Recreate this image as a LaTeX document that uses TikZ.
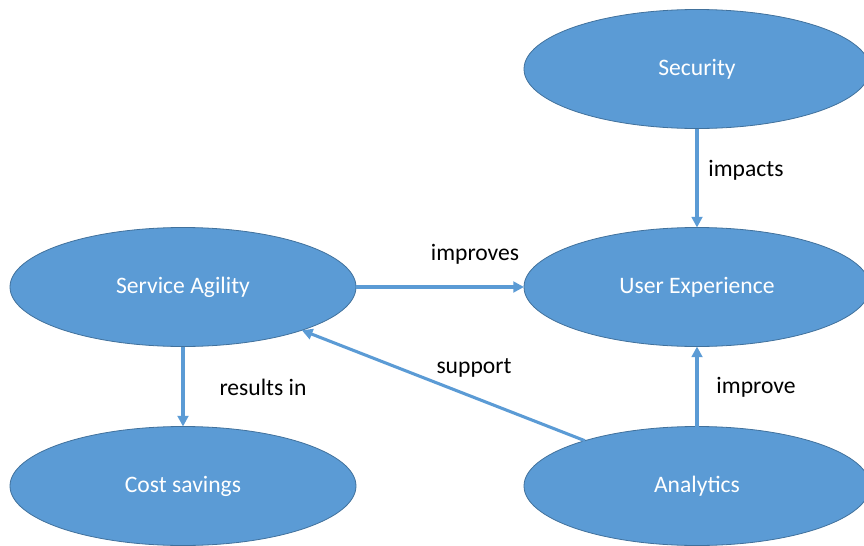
\documentclass[tikz,border=0pt]{standalone}
\usepackage{fontspec}
\setmainfont{Carlito}
\usepackage{xcolor}
\usetikzlibrary{shapes.geometric,arrows.meta}
\definecolor{ovalFill}{HTML}{5B9BD5}
\definecolor{ovalLine}{HTML}{41719C}
\newcommand{\ovalWidth}{346}
\newcommand{\ovalHeight}{119}

\begin{document}
\begin{tikzpicture}[x=0.75pt,y=-0.75pt,
	oval/.style={ellipse,draw=ovalLine,line width=0.6pt,fill=ovalFill,text=white,inner sep=0pt,outer sep=0pt,minimum width=\ovalWidth*0.75pt,minimum height=\ovalHeight*0.75pt,font=\fontsize{17.7}{21}\selectfont},
	link/.style={draw=ovalFill,line width=2.3pt,-{Triangle[length=8pt,width=8pt]}},
	linklabel/.style={font=\fontsize{17.7}{21}\selectfont,text=black}]
	\useasboundingbox (0,0) rectangle (864,546);

	\node[oval] (SEC) at (697,69) {Security};
	\node[oval] (SA) at (183,287) {Service Agility};
	\node[oval] (UX) at (697,287) {User Experience};
	\node[oval] (CS) at (183,486) {Cost savings};
	\node[oval] (AN) at (697,486) {Analytics};

	\draw[link] (SEC) -- (UX);
	\draw[link] (SA) -- (UX);
	\draw[link] (SA) -- (CS);
	\draw[link] (AN) -- (UX);
	\draw[link] (AN.158) -- (SA.-20);

	\node[linklabel] (LIMPACTS) at (746,170) {impacts};
	\node[linklabel] (LIMPROVES) at (475,254) {improves};
	\node[linklabel] (LRESULTS) at (263,387) {results in};
	\node[linklabel] (LSUPPORT) at (474,368) {support};
	\node[linklabel] (LIMPROVE) at (756,387) {improve};
\end{tikzpicture}
\end{document}
